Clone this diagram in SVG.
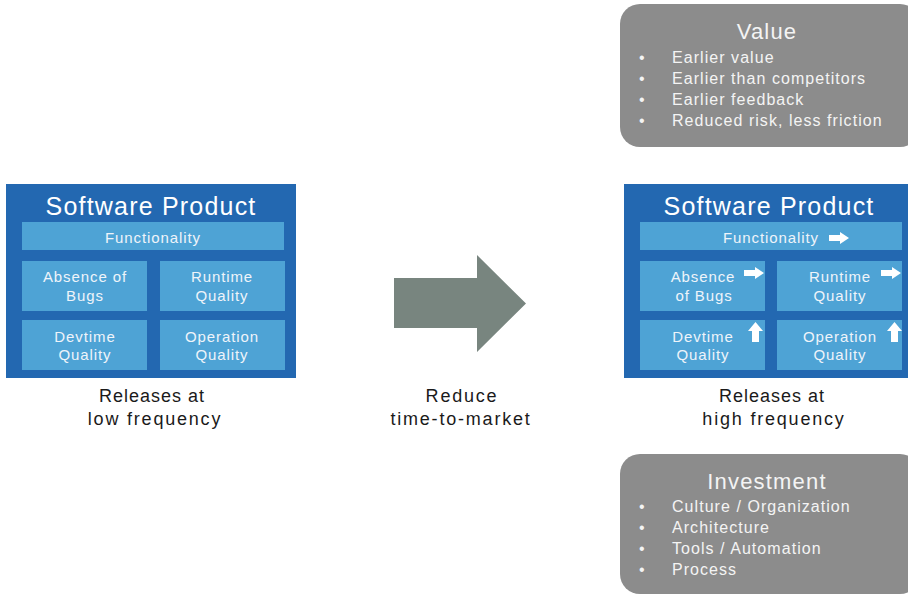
<svg xmlns="http://www.w3.org/2000/svg" width="908" height="594" viewBox="0 0 908 594">
<style>
.outer{fill:#2368b1}
.cell{fill:#4ea3d5}
.title{font-family:"Liberation Sans",Arial,sans-serif;font-size:25px;fill:#ffffff;text-anchor:middle;letter-spacing:1.2px}
.ct{font-family:"Liberation Sans",Arial,sans-serif;font-size:15px;fill:#eef4fa;text-anchor:middle;letter-spacing:0.9px}
.cap{font-family:"Liberation Sans",Arial,sans-serif;font-size:18px;fill:#1a1a1a;text-anchor:middle;letter-spacing:1.8px}
.gbox{fill:#8c8c8c}
.gt{font-family:"Liberation Sans",Arial,sans-serif;font-size:22px;fill:#f4f4f4;text-anchor:middle;letter-spacing:1.2px}
.gi{font-family:"Liberation Sans",Arial,sans-serif;font-size:16px;fill:#f4f4f4;letter-spacing:1.05px}
.wa{fill:#ffffff}
</style>
<defs>
<path id="ra" d="M0,3 H11 V0 L20,6 L11,12 V9 H0 Z"/>
<path id="ua" d="M4,20 V9 H0 L7.5,0 L15,9 H11 V20 Z"/>
</defs>

<g id="product-left">
<rect class="outer" x="6" y="184" width="290" height="194"/>
<text class="title" x="151" y="215">Software Product</text>
<rect class="cell" x="22" y="222" width="262" height="28"/>
<text class="ct" x="153" y="243">Functionality</text>
<rect class="cell" x="22" y="261" width="125" height="50"/>
<text class="ct" x="85" y="282">Absence of</text>
<text class="ct" x="85" y="301">Bugs</text>
<rect class="cell" x="160" y="261" width="125" height="50"/>
<text class="ct" x="222" y="282">Runtime</text>
<text class="ct" x="222" y="301">Quality</text>
<rect class="cell" x="22" y="320" width="125" height="50"/>
<text class="ct" x="85" y="342">Devtime</text>
<text class="ct" x="85" y="360">Quality</text>
<rect class="cell" x="160" y="320" width="125" height="50"/>
<text class="ct" x="222" y="342">Operation</text>
<text class="ct" x="222" y="360">Quality</text>
<text class="cap" x="152" y="402" style="letter-spacing:1px">Releases at</text>
<text class="cap" x="155" y="425">low frequency</text>
</g>

<g id="product-right">
<rect class="outer" x="624" y="184" width="290" height="194"/>
<text class="title" x="769" y="215">Software Product</text>
<rect class="cell" x="640" y="222" width="262" height="28"/>
<text class="ct" x="771" y="243">Functionality</text>
<use href="#ra" class="wa" x="829" y="232"/>
<rect class="cell" x="640" y="261" width="125" height="50"/>
<text class="ct" x="703" y="282">Absence</text>
<text class="ct" x="704" y="301">of Bugs</text>
<use href="#ra" class="wa" x="744" y="267"/>
<rect class="cell" x="777" y="261" width="125" height="50"/>
<text class="ct" x="840" y="282">Runtime</text>
<text class="ct" x="840" y="301">Quality</text>
<use href="#ra" class="wa" x="881" y="267"/>
<rect class="cell" x="640" y="320" width="125" height="50"/>
<text class="ct" x="703" y="342">Devtime</text>
<text class="ct" x="703" y="360">Quality</text>
<use href="#ua" class="wa" x="748" y="322"/>
<rect class="cell" x="777" y="320" width="125" height="50"/>
<text class="ct" x="840" y="342">Operation</text>
<text class="ct" x="840" y="360">Quality</text>
<use href="#ua" class="wa" x="887" y="322"/>
<text class="cap" x="772" y="402" style="letter-spacing:1px">Releases at</text>
<text class="cap" x="774" y="425">high frequency</text>
</g>

<g id="value">
<rect class="gbox" x="620" y="4" width="300" height="143" rx="20" ry="20"/>
<text class="gt" x="767" y="39">Value</text>
<g class="gi">
<text x="639" y="63">•</text><text x="672" y="63">Earlier value</text>
<text x="639" y="84">•</text><text x="672" y="84">Earlier than competitors</text>
<text x="639" y="105">•</text><text x="672" y="105">Earlier feedback</text>
<text x="639" y="126">•</text><text x="672" y="126">Reduced risk, less friction</text>
</g>
</g>

<g id="investment">
<rect class="gbox" x="620" y="454" width="300" height="140" rx="20" ry="20"/>
<text class="gt" x="767" y="489">Investment</text>
<g class="gi">
<text x="639" y="512">•</text><text x="672" y="512">Culture / Organization</text>
<text x="639" y="533">•</text><text x="672" y="533">Architecture</text>
<text x="639" y="554">•</text><text x="672" y="554">Tools / Automation</text>
<text x="639" y="575">•</text><text x="672" y="575">Process</text>
</g>
</g>

<g id="connectors">
<path d="M394,278 H477 V255 L526,303.5 L477,352 V328 H394 Z" fill="#78857f"/>
<text class="cap" x="462" y="402">Reduce</text>
<text class="cap" x="461" y="425">time-to-market</text>
</g>
</svg>
